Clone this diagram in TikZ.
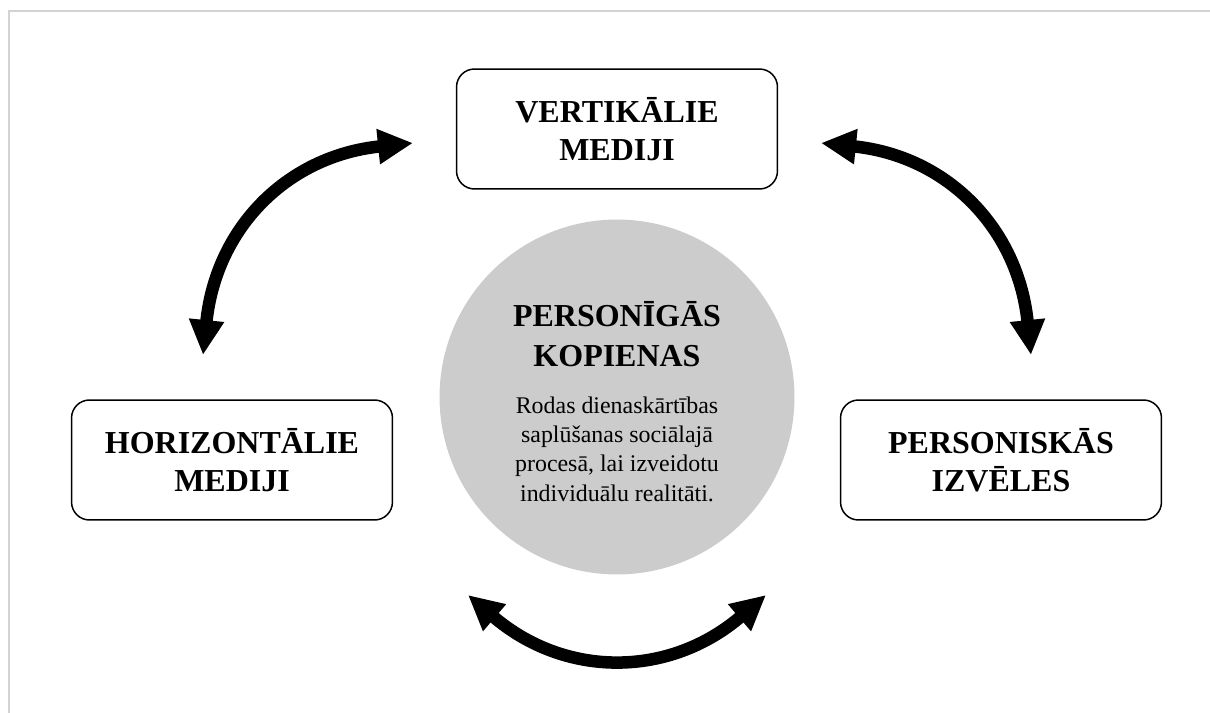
\documentclass[tikz,border=0pt]{standalone}
\usepackage{fontspec}
\setmainfont{Liberation Serif}
\usetikzlibrary{arrows.meta,positioning}
\definecolor{framegray}{HTML}{D3D3D3}
\definecolor{hubgray}{HTML}{CCCCCC}

\begin{document}
\begin{tikzpicture}[x=0.02cm, y=-0.02cm,
                    box/.style={draw, line width=0.85pt, rounded corners=0.36cm,
                                minimum width=6.42cm, minimum height=2.4cm,
                                align=center, font=\fontsize{18.2}{21.5}\selectfont\bfseries},
                    hub/.style={circle, fill=hubgray, minimum size=7.1cm, inner sep=0pt},
                    link/.style={line width=0.25cm,
                                 {Triangle[length=0.7cm,width=0.66cm]}-{Triangle[length=0.7cm,width=0.66cm]}}]
    \useasboundingbox (0,0) rectangle (1210,713);
    \draw[framegray, line width=0.05cm] (1210,11) -- (9,11) -- (9,713);

    \node[box] (vert)  at (617,129)  {VERTIKĀLIE\\MEDIJI};
    \node[box] (horiz) at (232,460)  {HORIZONTĀLIE\\MEDIJI};
    \node[box] (pers)  at (1001,460) {PERSONISKĀS\\IZVĒLES};

    \node[hub] (hub) at (617,397) {};
    \node[align=center, inner sep=0pt, font=\fontsize{18.2}{22.7}\selectfont\bfseries]
        (hubtitle) at ([yshift=1.25cm]hub.center) {PERSONĪGĀS\\KOPIENAS};
    \node[align=center, inner sep=0pt, font=\fontsize{13.6}{16.7}\selectfont]
        (hubtext) at ([yshift=-1.04cm]hub.center)
        {Rodas dienaskārtības\\saplūšanas sociālajā\\procesā, lai izveidotu\\individuālu realitāti.};

    % arrow ends
    \coordinate (hl) at (203,355);
    \coordinate (vl) at (413,143);
    \coordinate (vr) at (821,143);
    \coordinate (pr) at (1031,355);
    \coordinate (bl) at (468,595);
    \coordinate (br) at (766,595);

    \draw[link] (hl) .. controls (216,228) and (287,156) .. (vl);
    \draw[link] (vr) .. controls (947,156) and (1018,228) .. (pr);
    \draw[link] (bl) .. controls (565,678) and (669,678) .. (br);
\end{tikzpicture}
\end{document}
